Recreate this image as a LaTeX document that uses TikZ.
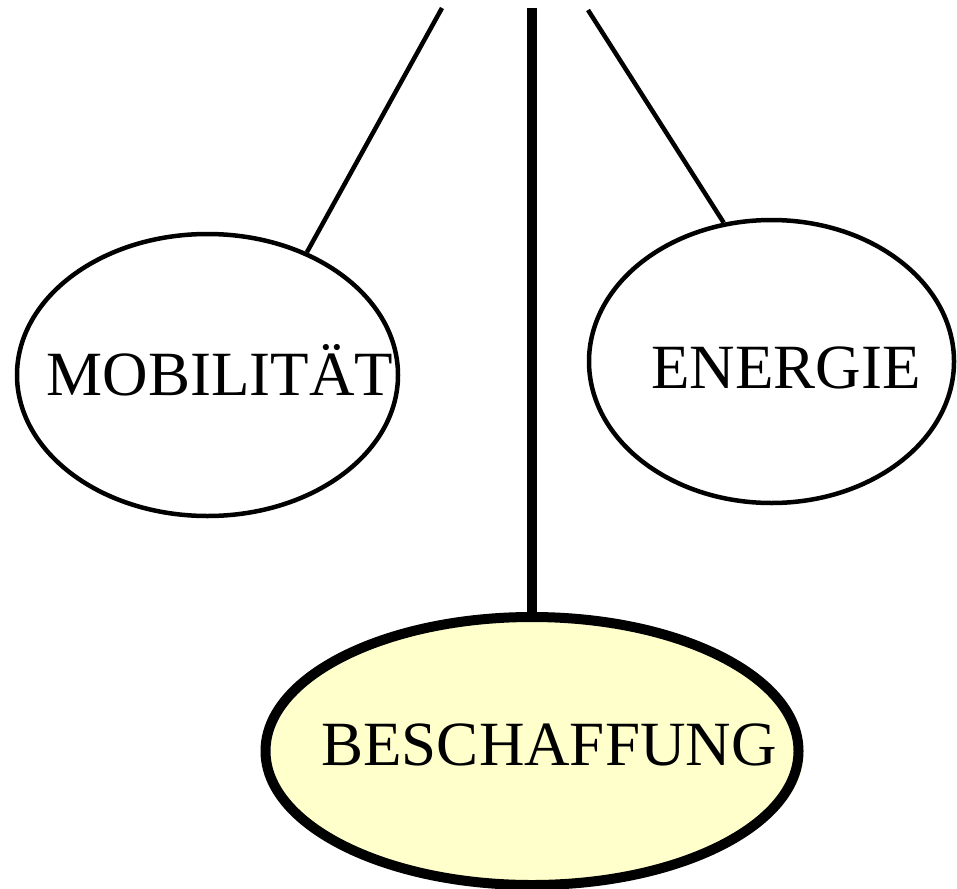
\documentclass[tikz,border=0pt]{standalone}
\usepackage{fontspec}
\setmainfont{Liberation Serif}
\usetikzlibrary{shapes.geometric,shadows}
\definecolor{paleyellow}{RGB}{255,255,204}

\begin{document}
\begin{tikzpicture}[x=1pt,y=-1pt,
        oval/.style={draw,ellipse,line width=4.5pt,inner sep=0pt},
        caption/.style={text height=0pt,text depth=0pt,inner sep=0pt,font=\fontsize{63}{63}\selectfont}]
    \useasboundingbox (0,0) rectangle (957,888);

    \node (mob)   at (207.5,375)   [oval,minimum width=381pt,minimum height=282pt,
                                    label={[caption,xshift=12.5pt,yshift=-20pt]center:MOBILITÄT}] {};
    \node (nrg)   at (771.5,361.5) [oval,minimum width=365pt,minimum height=283pt,
                                    label={[caption,xshift=14.5pt,yshift=-26.5pt]center:ENERGIE}] {};
    \node (besch) at (532,751)     [oval,line width=10pt,minimum width=533pt,minimum height=268pt,
                                    drop shadow={shadow xshift=5pt,shadow yshift=-2pt,fill=paleyellow,opacity=1},
                                    label={[caption,xshift=17pt,yshift=-14pt]center:BESCHAFFUNG}] {};

    % Free ends at the top edge
    \coordinate (topL) at (442,8);
    \coordinate (topM) at (532,8);
    \coordinate (topR) at (588,10);

    \draw[line width=4.5pt] (topL) -- (mob.51.5);
    \draw[line width=10pt]  (topM) -- (besch.north);
    \draw[line width=4.5pt] (topR) -- (nrg.109.2);
\end{tikzpicture}
\end{document}
